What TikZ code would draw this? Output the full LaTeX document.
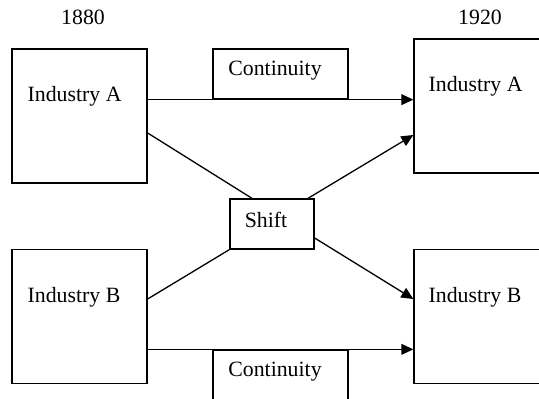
\documentclass[tikz,border=0pt]{standalone}
\usepackage{fontspec}
\setmainfont{Liberation Serif}
\usetikzlibrary{arrows.meta}

\begin{document}
\begin{tikzpicture}[x=0.5pt,y=-0.5pt,line width=0.65pt,
    every node/.style={font=\fontsize{10.9}{13}\selectfont},
    box/.style={draw,inner sep=0pt},
    ind/.style={box,minimum width=67.5pt,minimum height=67pt},
    boxtext/.style={anchor=west,inner sep=0pt},
    arr/.style={-{Triangle[length=6pt,width=5.4pt]}}]
    \clip (0,0) rectangle (539,399);
    % Years
    \node (y1880) at (83,17) {1880};
    \node (y1920) at (480,17) {1920};
    % Industry boxes
    \node[ind] (A1) at (79.5,116) {};
    \node[ind] (B1) at (79.5,316.5) {};
    \node[ind] (A2) at (481.5,106) {};
    \node[ind] (B2) at (481.5,316.5) {};
    \node[boxtext] (A1t) at (27,96) {Industry A};
    \node[boxtext] (B1t) at (27,297) {Industry B};
    \node[boxtext] (A2t) at (428,86) {Industry A};
    \node[boxtext] (B2t) at (428,297) {Industry B};
    % Continuity and shift
    \node[box,minimum width=67.5pt,minimum height=25pt] (C1) at (280.5,74) {};
    \node[box,minimum width=67.5pt,minimum height=25pt] (C2) at (280.5,375) {};
    \node[box,minimum width=42pt,minimum height=25pt] (S) at (272,224) {};
    \node (C1t) at (275,71) {Continuity};
    \node (C2t) at (275,372) {Continuity};
    \node (St) at (266,220) {Shift};
    % Connectors
    \draw[arr] (A1.east |- C1.south) -- (A2.west |- C1.south);
    \draw[arr] (B1.east |- C2.north) -- (B2.west |- C2.north);
    \draw ([yshift=-8.5pt]A1.east) -- ([xshift=-10pt]S.north);
    \draw[arr] ([xshift=18pt]S.north) -- ([yshift=-14.5pt]A2.west);
    \draw ([yshift=8.75pt]B1.east) -- (S.south west);
    \draw[arr] ([yshift=-7pt]S.east) -- ([yshift=8.75pt]B2.west);
\end{tikzpicture}
\end{document}
